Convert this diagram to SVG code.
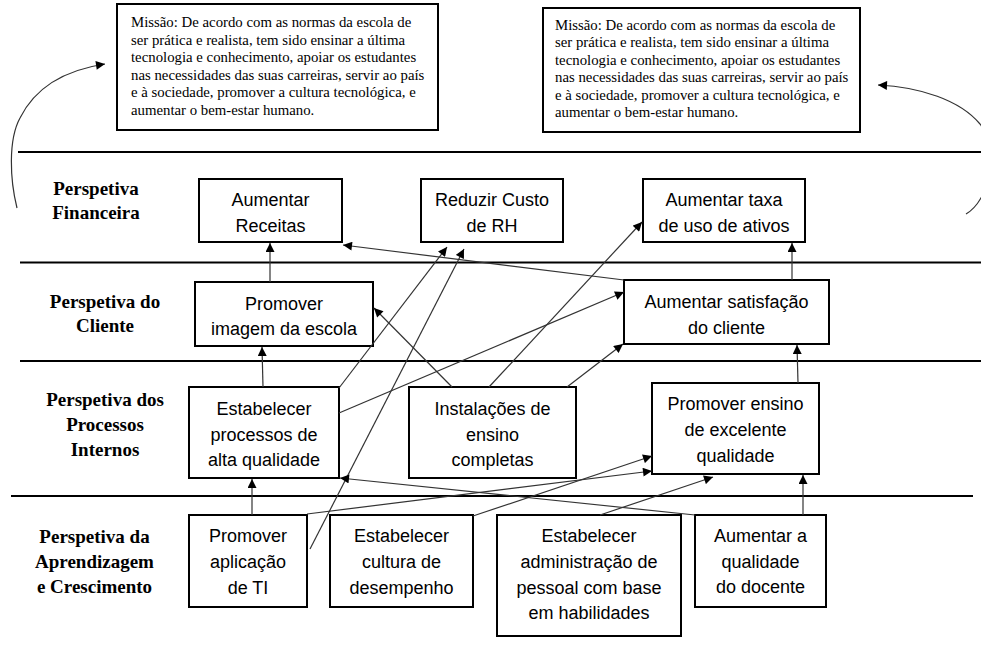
<svg xmlns="http://www.w3.org/2000/svg" width="981" height="646" viewBox="0 0 981 646">
<defs>
<marker id="ah" viewBox="0 0 10 10" refX="10" refY="5" markerWidth="10" markerHeight="9" orient="auto" markerUnits="userSpaceOnUse"><path d="M0,0 L10,5 L0,10 z" fill="#000"/></marker>
<style>
.bg{fill:#fff}
.box{fill:#fff;stroke:#000;stroke-width:2}
.sep{stroke:#000;stroke-width:2}
.mis{font-family:"Liberation Serif","Times New Roman",serif;font-size:14.8px;fill:#000}
.lab{font-family:"Liberation Serif","Times New Roman",serif;font-size:19px;font-weight:bold;fill:#000;text-anchor:middle}
.nt{font-family:"Liberation Sans",Arial,sans-serif;font-size:18px;fill:#000;text-anchor:middle}
.c{fill:none;stroke:#333;stroke-width:1.2;marker-end:url(#ah)}
</style>
</defs>
<rect class="bg" x="0" y="0" width="981" height="646"/>

<g id="separators">
<line class="sep" x1="18" y1="152" x2="981" y2="152"/>
<line class="sep" x1="20" y1="262.5" x2="981" y2="262.5"/>
<line class="sep" x1="20" y1="361" x2="981" y2="361"/>
<line class="sep" x1="11" y1="496" x2="973" y2="496"/>
</g>

<g id="labels">
<text class="lab" x="96" y="195">Perspetiva<tspan x="96" dy="24">Financeira</tspan></text>
<text class="lab" x="105" y="308">Perspetiva do<tspan x="105" dy="24">Cliente</tspan></text>
<text class="lab" x="105" y="406">Perspetiva dos<tspan x="105" dy="25">Processos</tspan><tspan x="105" dy="24.5">Internos</tspan></text>
<text class="lab" x="94.5" y="543">Perspetiva da<tspan x="94.5" dy="25">Aprendizagem</tspan><tspan x="94.5" dy="25">e Crescimento</tspan></text>
</g>

<g id="mission1">
<rect class="box" x="117" y="4" width="321" height="126"/>
<text class="mis" x="131" y="27">Missão: De acordo com as normas da escola de<tspan x="131" dy="17.5">ser prática e realista, tem sido ensinar a última</tspan><tspan x="131" dy="17.5">tecnologia e conhecimento, apoiar os estudantes</tspan><tspan x="131" dy="17.5">nas necessidades das suas carreiras, servir ao país</tspan><tspan x="131" dy="17.5">e à sociedade, promover a cultura tecnológica, e</tspan><tspan x="131" dy="17.5">aumentar o bem-estar humano.</tspan></text>
</g>
<g id="mission2">
<rect class="box" x="543" y="8" width="317" height="124"/>
<text class="mis" x="555" y="29.5">Missão: De acordo com as normas da escola de<tspan x="555" dy="17.5">ser prática e realista, tem sido ensinar a última</tspan><tspan x="555" dy="17.5">tecnologia e conhecimento, apoiar os estudantes</tspan><tspan x="555" dy="17.5">nas necessidades das suas carreiras, servir ao país</tspan><tspan x="555" dy="17.5">e à sociedade, promover a cultura tecnológica, e</tspan><tspan x="555" dy="17.5">aumentar o bem-estar humano.</tspan></text>
</g>

<g id="n_receitas">
<rect class="box" x="199" y="179" width="143" height="63"/>
<text class="nt" x="270.5" y="206">Aumentar<tspan x="270.5" dy="26">Receitas</tspan></text>
</g>
<g id="n_rh">
<rect class="box" x="421" y="179" width="142" height="63"/>
<text class="nt" x="492" y="206">Reduzir Custo<tspan x="492" dy="26">de RH</tspan></text>
</g>
<g id="n_taxa">
<rect class="box" x="643" y="179" width="162" height="63"/>
<text class="nt" x="724" y="206">Aumentar taxa<tspan x="724" dy="26">de uso de ativos</tspan></text>
</g>
<g id="n_imagem">
<rect class="box" x="195" y="282" width="178" height="64"/>
<text class="nt" x="284" y="310">Promover<tspan x="284" dy="24.5">imagem da escola</tspan></text>
</g>
<g id="n_satisfacao">
<rect class="box" x="624" y="280" width="205" height="64"/>
<text class="nt" x="726.5" y="308">Aumentar satisfação<tspan x="726.5" dy="26">do cliente</tspan></text>
</g>
<g id="n_processos">
<rect class="box" x="189" y="387" width="150" height="91"/>
<text class="nt" x="264" y="415">Estabelecer<tspan x="264" dy="25.5">processos de</tspan><tspan x="264" dy="25.5">alta qualidade</tspan></text>
</g>
<g id="n_instalacoes">
<rect class="box" x="409" y="387" width="167" height="91"/>
<text class="nt" x="492.5" y="415">Instalações de<tspan x="492.5" dy="25.5">ensino</tspan><tspan x="492.5" dy="25.5">completas</tspan></text>
</g>
<g id="n_ensino">
<rect class="box" x="652" y="383" width="167" height="91"/>
<text class="nt" x="735.5" y="410">Promover ensino<tspan x="735.5" dy="26">de excelente</tspan><tspan x="735.5" dy="26">qualidade</tspan></text>
</g>
<g id="n_ti">
<rect class="box" x="189" y="515" width="118" height="92"/>
<text class="nt" x="248" y="542">Promover<tspan x="248" dy="26">aplicação</tspan><tspan x="248" dy="26">de TI</tspan></text>
</g>
<g id="n_cultura">
<rect class="box" x="330" y="515" width="143" height="92"/>
<text class="nt" x="401.5" y="542">Estabelecer<tspan x="401.5" dy="26">cultura de</tspan><tspan x="401.5" dy="26">desempenho</tspan></text>
</g>
<g id="n_admin">
<rect class="box" x="497" y="515" width="184" height="121"/>
<text class="nt" x="589" y="542">Estabelecer<tspan x="589" dy="25.5">administração de</tspan><tspan x="589" dy="26">pessoal com base</tspan><tspan x="589" dy="25.5">em habilidades</tspan></text>
</g>
<g id="n_docente">
<rect class="box" x="695" y="515" width="131" height="92"/>
<text class="nt" x="760.5" y="542">Aumentar a<tspan x="760.5" dy="25.5">qualidade</tspan><tspan x="760.5" dy="25.5">do docente</tspan></text>
</g>

<g id="connectors">
<line class="c" x1="270" y1="282" x2="270" y2="243"/>
<line class="c" x1="624" y1="280" x2="343" y2="245"/>
<line class="c" x1="792" y1="280" x2="792" y2="243"/>
<line class="c" x1="798" y1="383" x2="797" y2="345"/>
<line class="c" x1="263" y1="387" x2="262" y2="347"/>
<line class="c" x1="252" y1="515" x2="252" y2="479"/>
<line class="c" x1="803" y1="515" x2="803" y2="475"/>
<line class="c" x1="339" y1="388" x2="447" y2="247"/>
<line class="c" x1="310" y1="549" x2="464" y2="249"/>
<line class="c" x1="339" y1="413" x2="624" y2="292"/>
<line class="c" x1="452" y1="387" x2="374" y2="308"/>
<line class="c" x1="489" y1="387" x2="642" y2="222"/>
<line class="c" x1="567" y1="387" x2="623" y2="344"/>
<line class="c" x1="473" y1="516" x2="652" y2="456"/>
<line class="c" x1="307" y1="514" x2="652" y2="471"/>
<line class="c" x1="600" y1="515" x2="713" y2="477"/>
<line class="c" x1="695" y1="515" x2="340" y2="478"/>
<path class="c" d="M17,208 C10,180 8,140 20,118 C35,88 65,70 105,64"/>
<path class="c" d="M966,214 C990,200 1000,150 980,124 C960,100 920,87 878,85"/>
</g>
</svg>
